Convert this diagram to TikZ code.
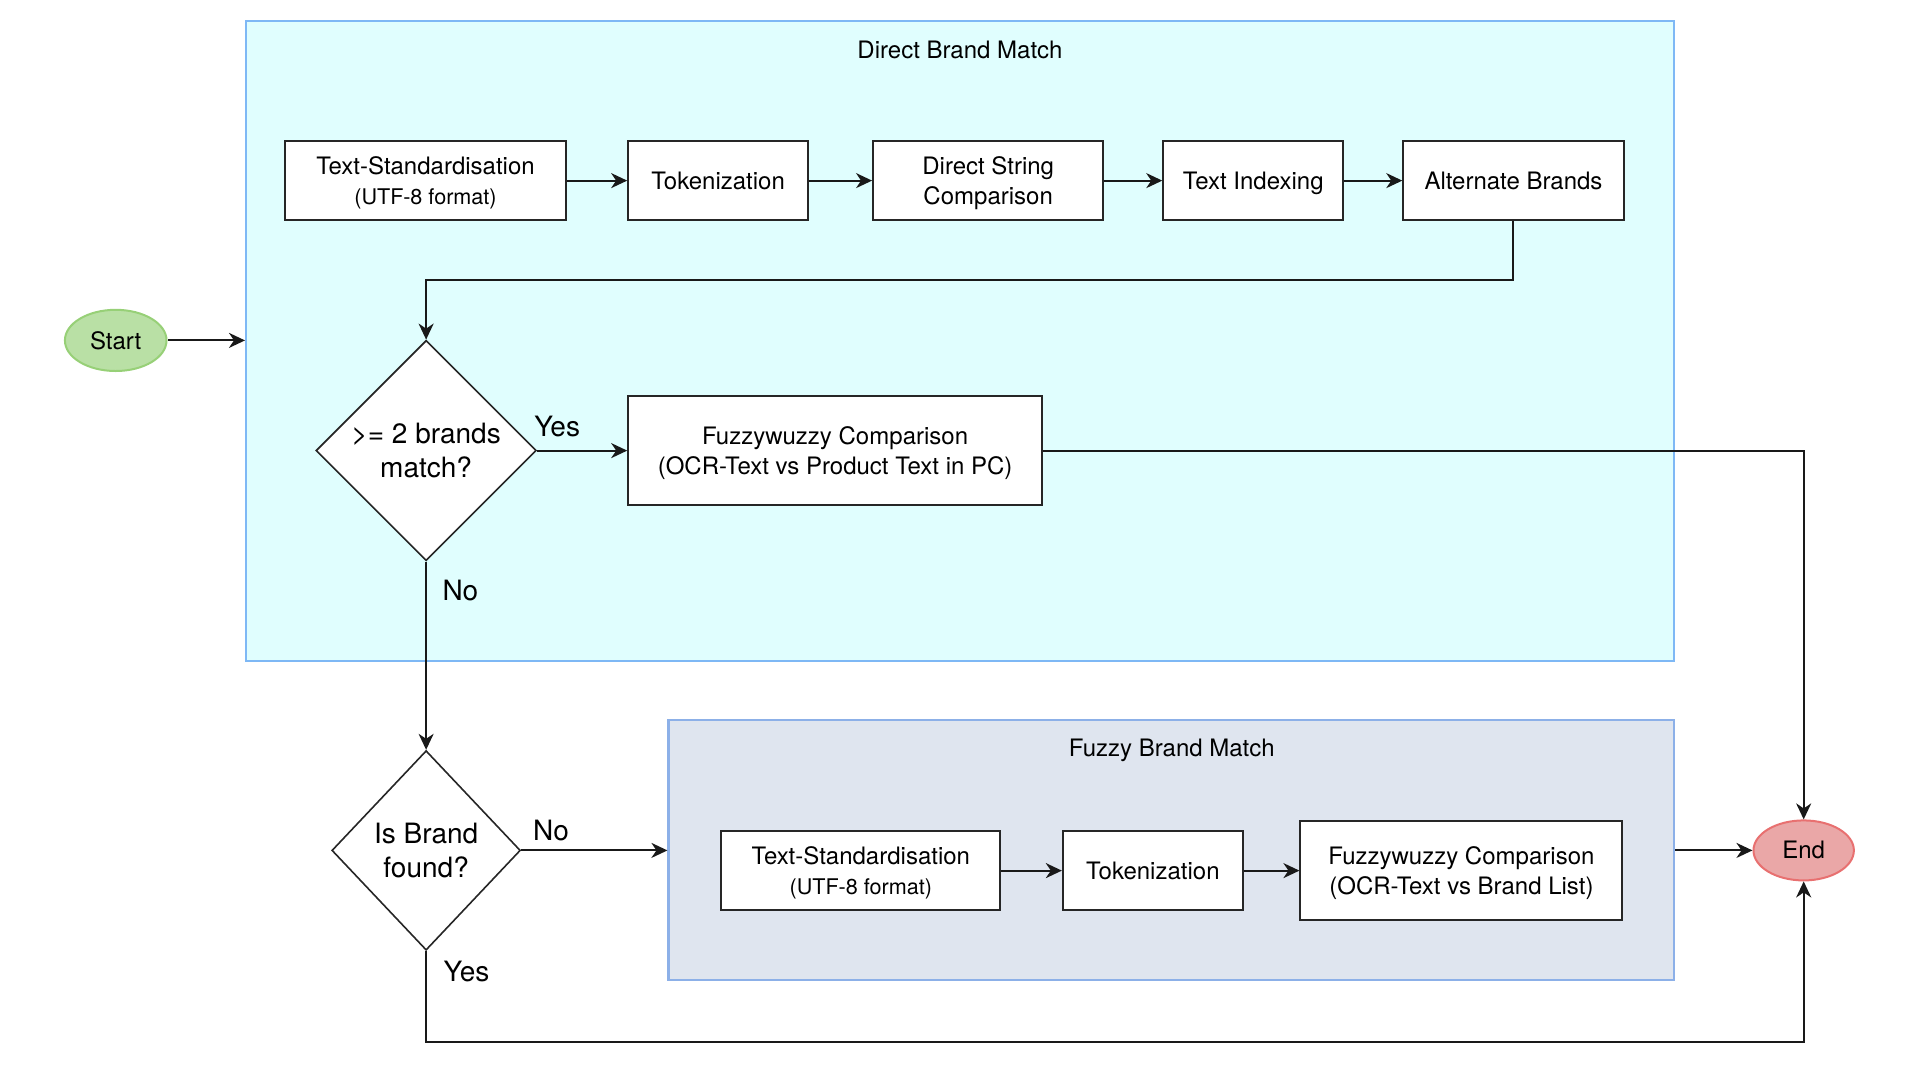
\documentclass[tikz,border=0pt]{standalone}
\usepackage{fontspec}
\setmainfont{TeX Gyre Heros}
\usetikzlibrary{shapes.geometric,arrows.meta,calc}
\definecolor{dbfill}{HTML}{E0FEFE}
\definecolor{dbstroke}{HTML}{7EB8F5}
\definecolor{fzfill}{HTML}{DFE5EF}
\definecolor{fzstroke}{HTML}{8CB0E8}
\definecolor{stfill}{HTML}{B9E0A5}
\definecolor{ststroke}{HTML}{97D077}
\definecolor{enfill}{HTML}{EAA7A7}
\definecolor{enstroke}{HTML}{E87070}
\begin{document}
\begin{tikzpicture}[x=0.61225pt,y=-0.61225pt,
  box/.style={draw=black!85, line width=1pt, fill=white, inner sep=2pt, align=center,
    font=\fontsize{12}{15}\selectfont, minimum height=39.8pt, text depth=0pt},
  dec/.style={draw=black!85, line width=0.8pt, fill=white, diamond, aspect=1, inner sep=0pt,
    align=center, font=\fontsize{14}{17}\selectfont},
  lbl/.style={font=\fontsize{14}{17}\selectfont, inner sep=0pt},
  ttl/.style={font=\fontsize{12}{15}\selectfont, inner sep=0pt},
  term/.style={ellipse, line width=1pt, inner sep=0pt, font=\fontsize{12}{15}\selectfont},
  cont/.style={line width=1.1pt, inner sep=0pt},
  conn/.style={line width=1pt, draw=black!90},
  arr/.style={conn, -{Stealth[length=8pt,width=7.5pt,inset=2.5pt]}},
]
\useasboundingbox (0,0) rectangle (1568,882);

% containers
\node[cont, draw=dbstroke, fill=dbfill, minimum width=713.9pt, minimum height=320.2pt] (direct) at (784,278.5) {};
\node[ttl] (dtitle) at (784,41) {Direct Brand Match};
\node[cont, draw=fzstroke, fill=fzfill, minimum width=502.7pt, minimum height=129.8pt] (fuzzy) at (956.5,694) {};
\node[ttl] (ftitle) at (957,613) {Fuzzy Brand Match};

% top row
\node[box, minimum width=140.2pt] (ts1) at (347.5,147.5) {Text-Standardisation\\{\fontsize{10.8}{15}\selectfont (UTF-8 format)}};
\node[box, minimum width=90pt] (tok1) at (586.5,147.5) {Tokenization};
\node[box, minimum width=115.1pt] (dsc) at (807,147.5) {Direct String\\Comparison};
\node[box, minimum width=90pt] (ti) at (1023.5,147.5) {Text Indexing};
\node[box, minimum width=110.2pt] (ab) at (1236,147.5) {Alternate Brands};
\coordinate (turn) at (0,229);

% start / end
\node[term, draw=ststroke, fill=stfill, minimum width=50.8pt, minimum height=30.6pt] (start) at (94.5,278) {Start};
\node[term, draw=enstroke, fill=enfill, minimum width=50.2pt, minimum height=30pt] (end) at (1473,694.5) {End};

% decisions
\node[dec, minimum width=110.2pt, minimum height=110.2pt] (d1) at (348,368) {>= 2 brands\\match?};
\node[box, font=\fontsize{12}{14.7}\selectfont, minimum width=206.9pt, minimum height=54.5pt] (fw1) at (682,368) {Fuzzywuzzy Comparison\\(OCR-Text vs Product Text in PC)};
\node[dec, minimum width=94.3pt, minimum height=99.8pt] (d2) at (348,694.5) {Is Brand\\found?};

% fuzzy row
\node[box, minimum width=139.6pt, minimum height=39.2pt] (ts2) at (703,711) {Text-Standardisation\\{\fontsize{10.8}{15}\selectfont (UTF-8 format)}};
\node[box, minimum width=90pt, minimum height=39.2pt] (tok2) at (941.5,711) {Tokenization};
\node[box, font=\fontsize{12}{14.7}\selectfont, minimum width=161pt, minimum height=49.6pt] (fw2) at (1193.5,711) {Fuzzywuzzy Comparison\\(OCR-Text vs Brand List)};

% labels
\node[lbl] (yes1) at (455,348) {Yes};
\node[lbl] (no1) at (376,482) {No};
\node[lbl] (no2) at (450,678) {No};
\node[lbl] (yes2) at (381,793) {Yes};

% connectors
\draw[arr] (ts1) -- (tok1);
\draw[arr] (tok1) -- (dsc);
\draw[arr] (dsc) -- (ti);
\draw[arr] (ti) -- (ab);
\draw[arr] (ab.south) -- (ab.south |- turn) -| (d1.north);
\draw[arr] (start.east) -- (start -| direct.west);
\draw[arr] (d1.east) -- (fw1.west);
\draw[arr] (fw1.east) -| (end.north);
\draw[arr] (d1.south) -- (d2.north);
\draw[arr] (d2.east) -- (d2 -| fuzzy.west);
\draw[arr] (ts2) -- (tok2);
\draw[arr] (tok2) -- (fw2);
\draw[arr] (fuzzy.east |- end) -- (end.west);
\draw[arr] (d2.south) -- ++(0,74) -| (end.south);
\end{tikzpicture}
\end{document}
